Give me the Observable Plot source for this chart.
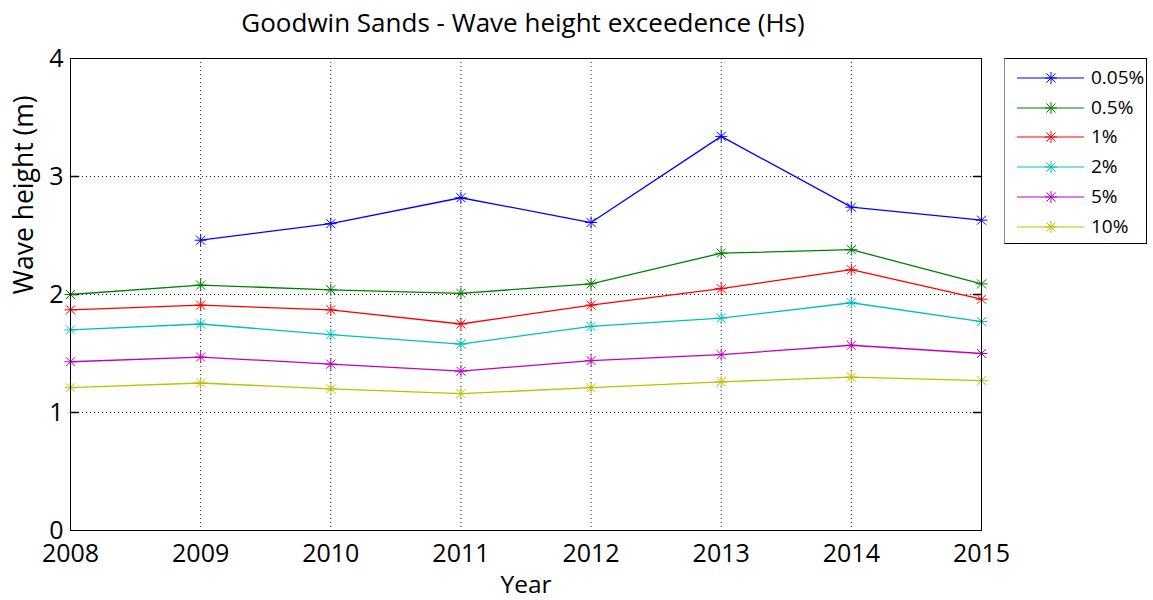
<!DOCTYPE html>
<html>
<head>
<meta charset="utf-8">
<script src="https://cdn.jsdelivr.net/npm/d3@7"></script>
<script src="https://cdn.jsdelivr.net/npm/@observablehq/plot@0.6"></script>
<style>
  body { margin: 0; background: #fff; font-family: "Open Sans", sans-serif; }
  #wrap { position: relative; width: 1153px; height: 600px; overflow: hidden; }
  #title { position: absolute; left: 0; top: 5px; width: 1046px; text-align: center; font-size: 26px; line-height: 34px; color: #000; }
  #chart { position: absolute; left: 0; top: 45px; }
  #legend { position: absolute; left: 1004px; top: 58px; width: 143px; height: 186px; border: 1px solid #000; border-left-color: #888; background: #fff; box-sizing: border-box; }
  .item { position: absolute; left: 0; height: 20px; width: 140px; }
  .item span { position: absolute; left: 86px; top: -4px; font-size: 19px; line-height: 26px; color: #000; }
</style>
</head>
<body>
<div id="wrap">
  <div id="title">Goodwin Sands - Wave height exceedence (Hs)</div>
  <div id="chart"></div>
  <div id="legend"></div>
</div>
<script>
const years = [2008, 2009, 2010, 2011, 2012, 2013, 2014, 2015];
const seriesNames = ["0.05%", "0.5%", "1%", "2%", "5%", "10%"];
const seriesColors = ["#0000ff", "#008000", "#ff0000", "#00bfbf", "#bf00bf", "#bfbf00"];
const p005 = [null, 2.46, 2.60, 2.82, 2.61, 3.34, 2.74, 2.63];
const p05  = [2.00, 2.08, 2.04, 2.01, 2.09, 2.35, 2.38, 2.09];
const p1   = [1.87, 1.91, 1.87, 1.75, 1.91, 2.05, 2.21, 1.96];
const p2   = [1.70, 1.75, 1.66, 1.58, 1.73, 1.80, 1.93, 1.77];
const p5   = [1.43, 1.47, 1.41, 1.35, 1.44, 1.49, 1.57, 1.50];
const p10  = [1.21, 1.25, 1.20, 1.16, 1.21, 1.26, 1.30, 1.27];
const yTicks = [0, 1, 2, 3, 4];
const yGrid = [1, 2, 3];

const allSeries = [p005, p05, p1, p2, p5, p10];
const data = [];
allSeries.forEach((vals, i) => {
  vals.forEach((v, j) => data.push({year: years[j], value: v, series: seriesNames[i]}));
});
const pts = data.filter(d => d.value != null);

// MATLAB-style 8-arm asterisk
const star = {
  draw(context, size) {
    const r = Math.sqrt(size / Math.PI);
    const d = r * 0.75;
    context.moveTo(-r, 0); context.lineTo(r, 0);
    context.moveTo(0, -r); context.lineTo(0, r);
    context.moveTo(-d, -d); context.lineTo(d, d);
    context.moveTo(-d, d); context.lineTo(d, -d);
  }
};
const tickShape = {draw(c, l) { c.moveTo(0, 0); c.lineTo(0, -l); }};

const colorScale = {domain: seriesNames, range: seriesColors};
const font = "Open Sans, sans-serif";

const plot = Plot.plot({
  width: 1153,
  height: 555,
  marginLeft: 70,
  marginRight: 172,
  marginTop: 13,
  marginBottom: 70,
  style: {fontFamily: font, fontSize: "25px", color: "#000", background: "#fff", overflow: "visible"},
  x: {domain: [2008, 2015], ticks: years, tickFormat: "d", label: null},
  y: {domain: [0, 4], ticks: yTicks, tickFormat: "d", label: null},
  color: colorScale,
  marks: [
    Plot.ruleY(yGrid, {stroke: "#222", strokeDasharray: "1,3", strokeWidth: 1}),
    Plot.ruleX(years.slice(1, -1), {stroke: "#222", strokeDasharray: "1,3", strokeWidth: 1}),
    Plot.vector(yGrid, {x: 2008, y: d => d, length: 8, rotate: 90, anchor: "start", stroke: "#000", shape: tickShape}),
    Plot.vector(yGrid, {x: 2015, y: d => d, length: 8, rotate: -90, anchor: "start", stroke: "#000", shape: tickShape}),
    Plot.line(data, {x: "year", y: "value", stroke: "series", strokeWidth: 1.3}),
    Plot.dot(pts, {x: "year", y: "value", stroke: "series", symbol: star, r: 6, strokeWidth: 1}),
    Plot.frame({stroke: "#000", strokeWidth: 1}),
    Plot.axisX(years, {tickSize: 0, tickPadding: 14, tickFormat: "d", fontSize: 25, label: null}),
    Plot.axisY(yTicks, {tickSize: 0, tickPadding: 7, tickFormat: "d", fontSize: 25, label: null}),
    Plot.text(["Year"], {frameAnchor: "bottom", lineAnchor: "middle", dy: 55, fontSize: 24.5}),
    Plot.text(["Wave height (m)"], {frameAnchor: "left", dx: -46, rotate: -90, fontSize: 26.5})
  ]
});
document.getElementById("chart").appendChild(plot);

// legend
const legend = d3.select("#legend");
seriesNames.forEach((name, i) => {
  const item = legend.append("div").attr("class", "item").style("top", (9 + i * 29.7) + "px");
  const svg = item.append("svg").attr("width", 84).attr("height", 20).style("position", "absolute").style("left", 0).style("top", 0);
  svg.append("line").attr("x1", 12).attr("x2", 79).attr("y1", 10).attr("y2", 10).attr("stroke", seriesColors[i]).attr("stroke-width", 1.2);
  svg.append("path").attr("transform", "translate(46,10)")
    .attr("d", d3.symbol(star, Math.PI * 36)())
    .attr("stroke", seriesColors[i]).attr("fill", "none");
  item.append("span").text(name);
});
</script>
</body>
</html>
